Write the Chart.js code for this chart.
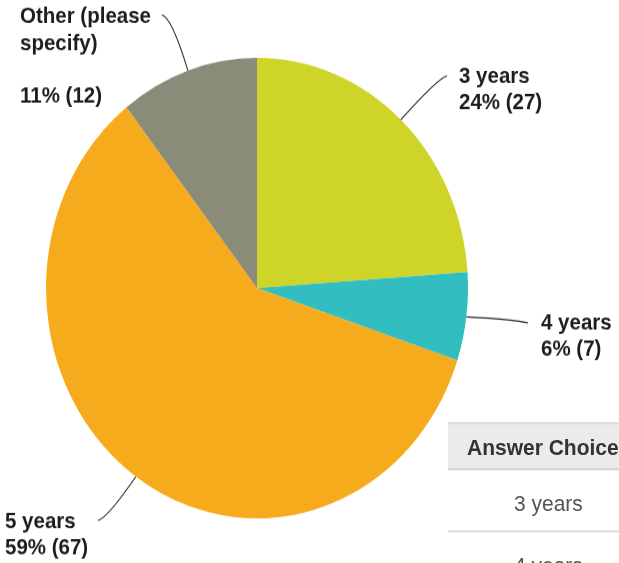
<!DOCTYPE html>
<html>
<head>
<meta charset="utf-8">
<script src="https://cdn.jsdelivr.net/npm/chart.js@4/dist/chart.umd.min.js"></script>
<style>
  html, body { margin: 0; padding: 0; background: #fff; overflow: hidden; }
  #outer { position: relative; width: 619px; height: 563px; overflow: hidden; }
  /* la imagen original está estirada verticalmente */
  #wrap { position: absolute; left: 0; top: 0; width: 619px; height: 516px; transform: scale(1, 1.0912); transform-origin: 0 0; }
  #pie { position: absolute; left: 0; top: 0; }
  #tbl { position: absolute; left: 448px; top: 387px; width: 240px; font-family: "Liberation Sans", Arial, sans-serif; font-size: 21px; white-space: nowrap; }
  #tbl .hd { height: 40px; line-height: 42px; background: #ebebeb; border-top: 2px solid #dedede; border-bottom: 2px solid #d6d6d6; color: #333; font-weight: bold; padding-left: 19px; }
  #tbl .row { height: 55px; line-height: 60px; border-bottom: 2px solid #dcdcdc; color: #555; padding-left: 66px; }
</style>
</head>
<body>
<div id="outer">
<div id="wrap">
  <canvas id="pie" width="619" height="516"></canvas>
  <div id="tbl">
    <div class="hd">Answer Choices</div>
    <div class="row">3 years</div>
    <div class="row">4 years</div>
  </div>
</div>
</div>
<script>
// datos del gráfico
const categories = ['3 years', '4 years', '5 years', 'Other (please specify)'];
const counts = [27, 7, 67, 12];
const percents = ['24%', '6%', '59%', '11%'];
const colors = ['#cfd428', '#32bec0', '#f6ab1d', '#8b8b79'];

// posiciones de etiquetas (layout, coordenadas internas)
const labelSpots = [
  { lines: ['3 years'], x: 459, y: 70, lx: 447, ly: 69.5, dir: 1 },
  { lines: ['4 years'], x: 541, y: 296, lx: 528, ly: 296, dir: 1 },
  { lines: ['5 years'], x: 5, y: 478, lx: 98, ly: 477, dir: -1 },
  { lines: ['Other (please', 'specify)'], x: 20, y: 15.5, lx: 162, ly: 13.5, dir: -1, gap: true }
];

const leaderPlugin = {
  id: 'leaders',
  afterDraw(chart) {
    const ctx = chart.ctx;
    const meta = chart.getDatasetMeta(0);
    ctx.save();
    meta.data.forEach((arc, i) => {
      const spot = labelSpots[i];
      const mid = (arc.startAngle + arc.endAngle) / 2;
      const r = arc.outerRadius;
      const sx = arc.x + Math.cos(mid) * r;
      const sy = arc.y + Math.sin(mid) * r;
      ctx.strokeStyle = '#2a2a2a';
      ctx.lineWidth = 1.1;
      ctx.beginPath();
      ctx.moveTo(sx, sy);
      ctx.quadraticCurveTo(spot.lx - spot.dir * 10, spot.ly + (sy > spot.ly ? 3 : -3), spot.lx, spot.ly);
      ctx.stroke();

      ctx.fillStyle = '#1c1c1c';
      ctx.font = 'bold 20.5px "Liberation Sans", Arial, sans-serif';
      ctx.textBaseline = 'middle';
      ctx.textAlign = 'left';
      let y = spot.y;
      spot.lines.forEach(t => {
        ctx.fillText(t, spot.x, y);
        y += 24.7;
      });
      if (spot.gap) y += 23;
      ctx.fillText(percents[i] + ' (' + counts[i] + ')', spot.x, y);
    });
    ctx.restore();
  }
};

new Chart(document.getElementById('pie'), {
  type: 'pie',
  data: {
    labels: categories,
    datasets: [{
      data: counts,
      backgroundColor: colors,
      borderWidth: 0
    }]
  },
  options: {
    responsive: false,
    animation: false,
    layout: { padding: { left: 46, right: 151, top: 53, bottom: 41 } },
    plugins: {
      legend: { display: false },
      tooltip: { enabled: false }
    }
  },
  plugins: [leaderPlugin]
});
</script>
</body>
</html>
